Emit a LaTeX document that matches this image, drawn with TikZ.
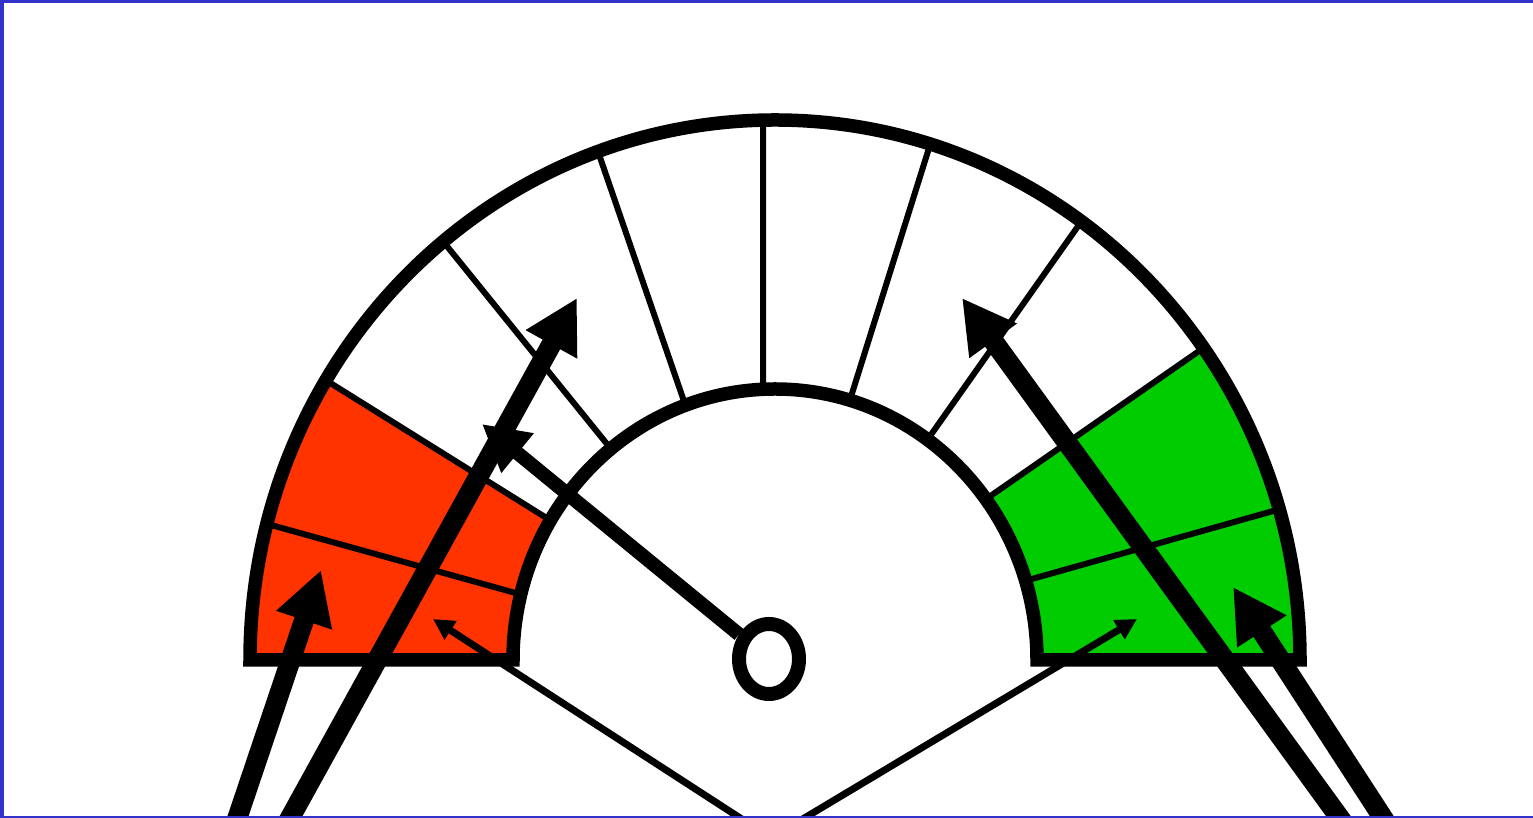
\documentclass[tikz,border=0pt]{standalone}
\usetikzlibrary{arrows.meta,shapes.geometric}
\definecolor{zonered}{HTML}{FF3300}
\definecolor{zonegreen}{HTML}{00CC00}
\definecolor{frameblue}{HTML}{3333CC}

\begin{document}
\begin{tikzpicture}[x=1pt,y=1pt,
  rim/.style={line width=13.5pt,line join=miter},
  tick/.style={line width=6pt},
  needle/.style={line width=14pt,-{Triangle[length=46pt,width=48pt]}},
  pointer/.style={line width=20pt,-{Triangle[length=53pt,width=55pt]}},
  thinptr/.style={line width=7pt,-{Triangle[length=21pt,width=21pt]}},
  hubring/.style={ellipse,draw,fill=white,line width=14pt,minimum width=60pt,minimum height=70pt,inner sep=0pt}]
  \useasboundingbox (0,0) rectangle (1533,818);
  \clip (0,0) rectangle (1533,818);
  \coordinate (c) at (775,158);
  % zones
  \fill[zonered] ([shift={(148.8:525 and 540)}]c) arc[start angle=148.8,end angle=180,x radius=525,y radius=540]
    -- ([shift={(180:262 and 271)}]c) arc[start angle=180,end angle=149,x radius=262,y radius=271] -- cycle;
  \fill[zonegreen] ([shift={(0:525 and 540)}]c) arc[start angle=0,end angle=35.3,x radius=525,y radius=540]
    -- ([shift={(36.4:262 and 271)}]c) arc[start angle=36.4,end angle=0,x radius=262,y radius=271] -- cycle;
  % scale divisions (inner angle / outer angle)
  \foreach \i/\o in {17/16.2,36.4/35.3,54.4/54.3,73.4/72.8,92.6/91.3,110/109.7,128.8/129.2,149/148.8,166/165.4}
    \draw[tick] ([shift={(\i:262 and 271)}]c) -- ([shift={(\o:525 and 540)}]c);
  % dial outline
  \draw[rim] ([shift={(180:525 and 540)}]c) arc[start angle=180,end angle=0,x radius=525,y radius=540]
    -- ([shift={(0:262 and 271)}]c) arc[start angle=0,end angle=180,x radius=262,y radius=271] -- cycle;
  % needle
  \node[hubring] (hub) at (769,159) {};
  \coordinate (ntip) at (482,394);
  \draw[needle] (hub) -- (ntip);
  % pointers from below
  \coordinate (vsrc) at (771,-20);
  \coordinate (redin) at (433,199);
  \coordinate (greenin) at (1137,199);
  \draw[thinptr] (vsrc) -- (redin);
  \draw[thinptr] (vsrc) -- (greenin);
  \coordinate (srcA) at (234,-10);   \coordinate (redlow) at (321,248);
  \coordinate (srcB) at (284.5,-10); \coordinate (lowmid) at (577,520);
  \coordinate (srcC) at (1347,-10);  \coordinate (highmid) at (962,520);
  \coordinate (srcD) at (1389.5,-10);\coordinate (greenlow) at (1233,231);
  \draw[pointer] (srcA) -- (redlow);
  \draw[pointer] (srcB) -- (lowmid);
  \draw[pointer] (srcC) -- (highmid);
  \draw[pointer] (srcD) -- (greenlow);
  % frame
  \fill[frameblue] (0,815) rectangle (1533,818);
  \fill[frameblue] (0,0) rectangle (4,818);
  \fill[frameblue] (0,0) rectangle (1533,2);
\end{tikzpicture}
\end{document}
